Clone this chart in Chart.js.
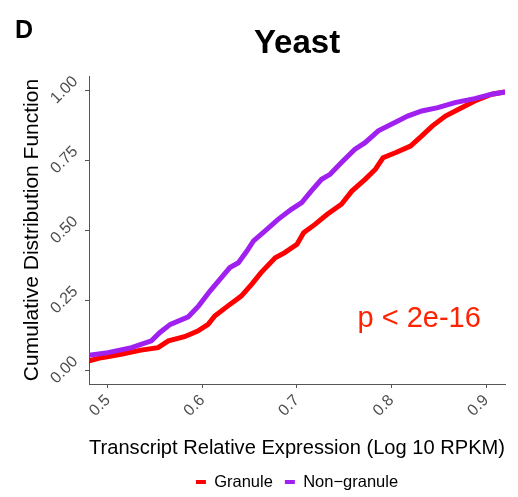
<!DOCTYPE html>
<html>
<head>
<meta charset="utf-8">
<script src="https://cdn.jsdelivr.net/npm/chart.js@4.4.1/dist/chart.umd.min.js"></script>
<style>
    html, body { margin: 0; padding: 0; background: #fff; }
    #chart { display: block; }
</style>
</head>
<body>
<canvas id="chart" width="518" height="497"></canvas>
<script>
    // values (ECDF of log10 RPKM)
    const granuleX = [0.479, 0.493, 0.514, 0.535, 0.553, 0.564, 0.581, 0.595, 0.606, 0.613, 0.627, 0.641,
        0.652, 0.662, 0.677, 0.687, 0.700, 0.707, 0.719, 0.732, 0.747, 0.758, 0.772, 0.783, 0.791, 0.804,
        0.820, 0.832, 0.843, 0.857, 0.871, 0.888, 0.906, 0.920];
    const granuleY = [0.032, 0.044, 0.056, 0.071, 0.080, 0.104, 0.119, 0.139, 0.163, 0.193, 0.229, 0.264,
        0.306, 0.348, 0.401, 0.419, 0.449, 0.490, 0.520, 0.556, 0.592, 0.639, 0.681, 0.717, 0.758, 0.776,
        0.800, 0.836, 0.871, 0.907, 0.931, 0.961, 0.985, 0.993];

    const nonGranuleX = [0.479, 0.500, 0.525, 0.546, 0.555, 0.566, 0.585, 0.596, 0.608, 0.620, 0.629, 0.638,
        0.647, 0.654, 0.666, 0.680, 0.694, 0.705, 0.715, 0.726, 0.735, 0.747, 0.761, 0.772, 0.786, 0.803,
        0.817, 0.832, 0.849, 0.867, 0.888, 0.906, 0.920];
    const nonGranuleY = [0.052, 0.062, 0.080, 0.104, 0.134, 0.163, 0.190, 0.229, 0.282, 0.330, 0.366, 0.383,
        0.425, 0.461, 0.496, 0.538, 0.574, 0.598, 0.639, 0.681, 0.699, 0.741, 0.788, 0.812, 0.854, 0.883,
        0.907, 0.925, 0.937, 0.955, 0.969, 0.985, 0.993];

    const seriesNames = ['Granule', 'Non\u2212granule'];
    const seriesColors = ['#ff0000', '#a020f0'];

    const xTickValues = [0.5, 0.6, 0.7, 0.8, 0.9];
    const yTickValues = [0, 0.25, 0.5, 0.75, 1];

    const pLabel = 'p < 2e-16';
    const pLabelX = 0.764;
    const pLabelY = 0.154;

    const FONT = '"Liberation Sans", Arial, Helvetica, sans-serif';

    function toPoints(xs, ys) {
        return xs.map(function (x, i) { return {x: x, y: ys[i]}; });
    }

    // panel letter "D" and the p-value note
    const annotations = {
        id: 'annotations',
        afterDatasetsDraw: function (chart) {
            const ctx = chart.ctx;
            const xs = chart.scales.x;
            const ys = chart.scales.y;
            ctx.save();
            ctx.fillStyle = '#ff2200';
            ctx.font = '29px ' + FONT;
            ctx.textAlign = 'left';
            ctx.textBaseline = 'alphabetic';
            ctx.fillText(pLabel, xs.getPixelForValue(pLabelX), ys.getPixelForValue(pLabelY));
            ctx.restore();
        },
        afterDraw: function (chart) {
            const ctx = chart.ctx;
            ctx.save();
            ctx.fillStyle = '#000';
            ctx.font = 'bold 25px ' + FONT;
            ctx.textAlign = 'left';
            ctx.textBaseline = 'alphabetic';
            ctx.fillText('D', 15, 38);
            ctx.restore();
        }
    };

    const lineDataset = function (i, xs, ys, order) {
        return {
            label: seriesNames[i],
            data: toPoints(xs, ys),
            borderColor: seriesColors[i],
            backgroundColor: seriesColors[i],
            borderWidth: 5,
            pointRadius: 0,
            tension: 0,
            order: order
        };
    };

    new Chart(document.getElementById('chart'), {
        type: 'line',
        data: {
            datasets: [
                lineDataset(0, granuleX, granuleY, 1),
                lineDataset(1, nonGranuleX, nonGranuleY, 0)
            ]
        },
        options: {
            responsive: false,
            animation: false,
            layout: {padding: {left: 0, right: 13, top: 0, bottom: 0}},
            plugins: {
                title: {
                    display: true,
                    text: 'Yeast',
                    fullSize: false,
                    color: '#000',
                    font: {family: FONT, size: 33, weight: 'bold', lineHeight: 1},
                    padding: {top: 27, bottom: 16}
                },
                legend: {
                    position: 'bottom',
                    fullSize: false,
                    maxHeight: 35.25,
                    labels: {
                        color: '#000',
                        font: {family: FONT, size: 16.5},
                        boxWidth: 10,
                        boxHeight: 4,
                        padding: 12,
                        sort: function (a, b) { return a.datasetIndex - b.datasetIndex; },
                        generateLabels: function (chart) {
                            return Chart.defaults.plugins.legend.labels.generateLabels(chart).map(function (item) {
                                item.lineWidth = 0;
                                return item;
                            });
                        }
                    }
                },
                tooltip: {enabled: false}
            },
            scales: {
                x: {
                    type: 'linear',
                    min: 0.48,
                    max: 0.92,
                    afterBuildTicks: function (scale) {
                        scale.ticks = xTickValues.map(function (v) { return {value: v}; });
                    },
                    afterFit: function (scale) { scale.height = 77.75; },
                    grid: {drawOnChartArea: false, drawTicks: true, tickLength: 4, color: '#555'},
                    border: {display: true, color: '#555', width: 1},
                    ticks: {
                        minRotation: 45,
                        maxRotation: 45,
                        padding: 3,
                        color: '#4d4d4d',
                        font: {family: FONT, size: 16},
                        callback: function (v) { return v.toFixed(1); }
                    },
                    title: {
                        display: true,
                        text: 'Transcript Relative Expression (Log 10 RPKM)',
                        color: '#000',
                        font: {family: FONT, size: 20.5, lineHeight: 1},
                        padding: {top: 0, bottom: 3}
                    }
                },
                y: {
                    type: 'linear',
                    min: -0.05,
                    max: 1.05,
                    afterBuildTicks: function (scale) {
                        scale.ticks = yTickValues.map(function (v) { return {value: v}; });
                    },
                    afterFit: function (scale) { scale.width = 89; },
                    grid: {drawOnChartArea: false, drawTicks: true, tickLength: 4, color: '#555'},
                    border: {display: true, color: '#555', width: 1},
                    ticks: {
                        minRotation: 45,
                        maxRotation: 45,
                        crossAlign: 'center',
                        padding: 5,
                        color: '#4d4d4d',
                        font: {family: FONT, size: 16},
                        callback: function (v) { return v.toFixed(2); }
                    },
                    title: {
                        display: true,
                        text: 'Cumulative Distribution Function',
                        color: '#000',
                        font: {family: FONT, size: 21, lineHeight: 1},
                        padding: {top: 22, bottom: 0}
                    }
                }
            }
        },
        plugins: [annotations]
    });
</script>
</body>
</html>
